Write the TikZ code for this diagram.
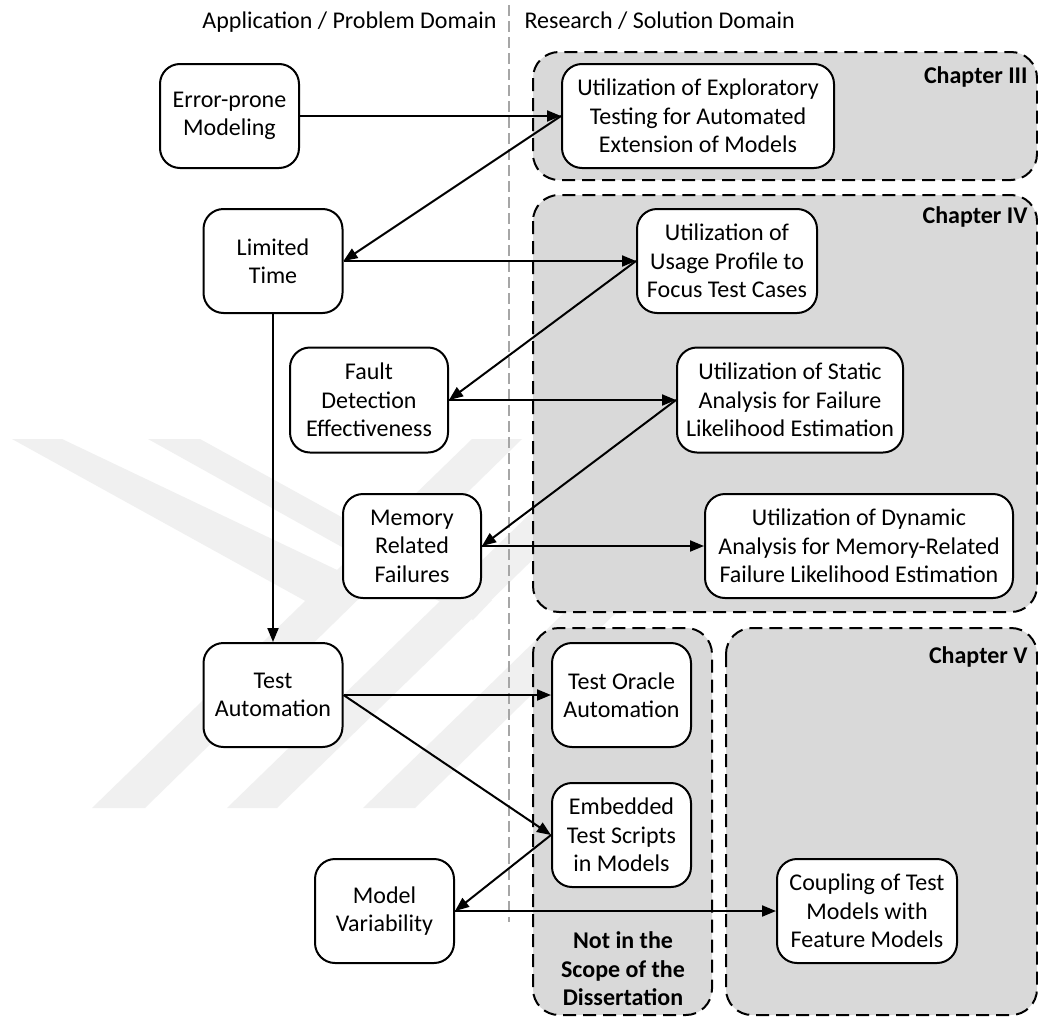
\documentclass[tikz,border=0pt]{standalone}
\usepackage{fontspec}
\setmainfont{Carlito}
\usetikzlibrary{arrows.meta}
\definecolor{regiongray}{HTML}{D9D9D9}
\definecolor{wmgray}{HTML}{F0F0F0}
\definecolor{sepgray}{HTML}{A6A6A6}
\begin{document}
\begin{tikzpicture}[x=1pt,y=-1pt,
  every node/.style={font=\fontsize{24}{28.5}\selectfont},
  idea/.style={draw, line width=2pt, rounded corners=20pt, fill=white,
    align=center, inner sep=0pt, minimum height=104pt},
  region/.style={draw, line width=2pt, fill=regiongray, rounded corners=26pt,
    dash pattern=on 13pt off 7pt},
  conn/.style={line width=2pt, -{Triangle[length=14pt,width=11pt]}},
  wmark/.style={fill=wmgray},
  tag/.style={font=\fontsize{24}{28.5}\selectfont\bfseries, align=center}
]
% canvas
\path[fill=white] (0,0) rectangle (1038,1017);
\useasboundingbox (0,0) rectangle (1038,1017);

% faint background emblem
\fill[wmark] (92,808) -- (145,808) -- (522,439) -- (472,439) -- cycle;
\fill[wmark] (227,808) -- (277,808) -- (657,439) -- (607,439) -- cycle;
\fill[wmark] (363,808) -- (415,808) -- (795,439) -- (743,439) -- cycle;
\fill[wmark] (12,439) -- (62,439) -- (356,579) -- (338,619) -- cycle;
\fill[wmark] (148,439) -- (200,439) -- (492,600) -- (473,620) -- cycle;

% domain separator
\coordinate (septop) at (509,5);
\coordinate (sepbot) at (509,922);
\draw[sepgray, line width=1.5pt, dash pattern=on 11pt off 5pt] (septop) -- (sepbot);
\node[anchor=base east] (appdom) at (500,28) {Application / Problem Domain};
\node[anchor=base west] (resdom) at (521,28) {Research / Solution Domain};

% chapter regions
\path[region] (533,52) rectangle (1037,180);
\path[region] (533,195) rectangle (1037,612);
\path[region] (533,628) rectangle (712,1015);
\path[region] (726,628) rectangle (1037,1015);
\node[tag, anchor=east] (ch3) at (1031,77) {Chapter III};
\node[tag, anchor=east] (ch4) at (1031,217) {Chapter IV};
\node[tag, anchor=east] (ch5) at (1031,657) {Chapter V};
\node[tag] (outscope) at (623,969) {Not in the\\Scope of the\\Dissertation};

% problem side
\node[idea, minimum width=139pt] (ep) at (229.5,116) {Error-prone\\Modeling};
\node[idea, minimum width=139pt] (lt) at (273,261) {Limited\\Time};
\node[idea, minimum width=158pt, minimum height=105pt] (fd) at (369,400) {Fault\\Detection\\Effectiveness};
\node[idea, minimum width=138pt] (mr) at (412,546) {Memory\\Related\\Failures};
\node[idea, minimum width=139pt] (ta) at (273,695) {Test\\Automation};
\node[idea, minimum width=139pt] (mv) at (384.5,911) {Model\\Variability};

% solution side
\node[idea, minimum width=272pt] (ex) at (698,116) {Utilization of Exploratory\\Testing for Automated\\Extension of Models};
\node[idea, minimum width=180pt] (up) at (727,261) {Utilization of\\Usage Profile to\\Focus Test Cases};
\node[idea, minimum width=226pt, minimum height=105pt] (sa) at (790,400) {Utilization of Static\\Analysis for Failure\\Likelihood Estimation};
\node[idea, minimum width=308pt] (da) at (859,546) {Utilization of Dynamic\\Analysis for Memory-Related\\Failure Likelihood Estimation};
\node[idea, minimum width=139pt] (to) at (621.5,695) {Test Oracle\\Automation};
\node[idea, minimum width=139pt] (es) at (621.5,835) {Embedded\\Test Scripts\\in Models};
\node[idea, minimum width=180pt] (cp) at (867,911) {Coupling of Test\\Models with\\Feature Models};

% connectors
\draw[conn] (ep.east) -- (ex.west);
\draw[conn] (ex.west) -- (lt.east);
\draw[conn] (lt.east) -- (up.west);
\draw[conn] (up.west) -- (fd.east);
\draw[conn] (fd.east) -- (sa.west);
\draw[conn] (sa.west) -- (mr.east);
\draw[conn] (mr.east) -- (da.west);
\draw[conn] (lt.south) -- (ta.north);
\draw[conn] (ta.east) -- (to.west);
\draw[conn] (ta.east) -- (es.west);
\draw[conn] (es.west) -- (mv.east);
\draw[conn] (mv.east) -- (cp.west);
\end{tikzpicture}
\end{document}
